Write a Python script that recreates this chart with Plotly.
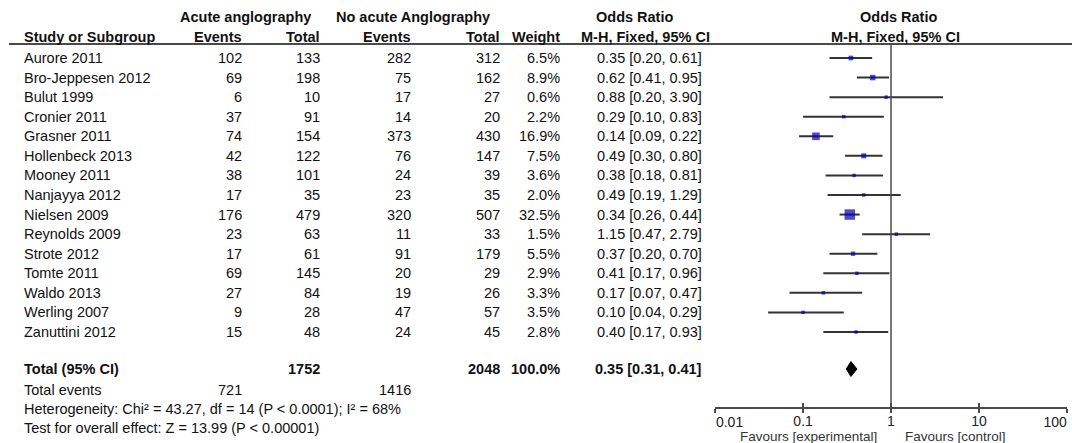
import plotly.graph_objects as go

studies = ["Aurore 2011", "Bro-Jeppesen 2012", "Bulut 1999", "Cronier 2011", "Grasner 2011",
           "Hollenbeck 2013", "Mooney 2011", "Nanjayya 2012", "Nielsen 2009", "Reynolds 2009",
           "Strote 2012", "Tomte 2011", "Waldo 2013", "Werling 2007", "Zanuttini 2012"]
events_acute = [102, 69, 6, 37, 74, 42, 38, 17, 176, 23, 17, 69, 27, 9, 15]
total_acute = [133, 198, 10, 91, 154, 122, 101, 35, 479, 63, 61, 145, 84, 28, 48]
events_noacute = [282, 75, 17, 14, 373, 76, 24, 23, 320, 11, 91, 20, 19, 47, 24]
total_noacute = [312, 162, 27, 20, 430, 147, 39, 35, 507, 33, 179, 29, 26, 57, 45]
weights = [6.5, 8.9, 0.6, 2.2, 16.9, 7.5, 3.6, 2.0, 32.5, 1.5, 5.5, 2.9, 3.3, 3.5, 2.8]
odds = [0.35, 0.62, 0.88, 0.29, 0.14, 0.49, 0.38, 0.49, 0.34, 1.15, 0.37, 0.41, 0.17, 0.10, 0.40]
ci_low = [0.20, 0.41, 0.20, 0.10, 0.09, 0.30, 0.18, 0.19, 0.26, 0.47, 0.20, 0.17, 0.07, 0.04, 0.17]
ci_high = [0.61, 0.95, 3.90, 0.83, 0.22, 0.80, 0.81, 1.29, 0.44, 2.79, 0.70, 0.96, 0.47, 0.29, 0.93]

total_label = "Total (95% CI)"
total_acute_n = 1752
total_noacute_n = 2048
total_weight = 100.0
pooled_or = 0.35
pooled_lo = 0.31
pooled_hi = 0.41
total_events_acute = 721
total_events_noacute = 1416
heterogeneity = "Heterogeneity: Chi² = 43.27, df = 14 (P < 0.0001); I² = 68%"
overall_effect = "Test for overall effect: Z = 13.99 (P < 0.00001)"

tick_vals = [0.01, 0.1, 1, 10, 100]
tick_text = ["0.01", "0.1", "1", "10", "100"]

# ---- layout constants ----
W, H = 1072, 443
FONT = "Liberation Sans, Arial, sans-serif"
TXT = "#111111"
FS = 14.5
ROW0_PX = 58.0
ROW_PX = 19.57


def px_x(p):
    return p / W


def px_y_paper(p):
    return (H - p) / H


def row_of(p):
    return (p - ROW0_PX) / ROW_PX


n = len(studies)
rows = list(range(n))
total_row = row_of(369)
events_row = row_of(390)
het_row = row_of(409)
test_row = row_of(428)
hdr1_row = row_of(17)
hdr2_row = row_of(37)

# middle tick labels centred, first label left-aligned, last label right-aligned
mid_text = [""] + tick_text[1:-1] + [""]

fig = go.Figure()

# CI lines
xs, ys = [], []
for i in rows:
    xs += [ci_low[i], ci_high[i], None]
    ys += [i, i, None]
fig.add_trace(go.Scatter(x=xs, y=ys, mode="lines",
                         line=dict(color="#333333", width=2), hoverinfo="skip", showlegend=False))

# Weighted squares
sizes = [max(3.5, 10.5 * (w / max(weights)) ** 0.5) for w in weights]
fig.add_trace(go.Scatter(x=odds, y=rows, mode="markers",
                         marker=dict(symbol="square", size=sizes, color="#0000b4",
                                     line=dict(width=0)),
                         hoverinfo="skip", showlegend=False))

# Diamond
dh = 0.38
fig.add_trace(go.Scatter(x=[pooled_lo, pooled_or, pooled_hi, pooled_or, pooled_lo],
                         y=[total_row, total_row - dh, total_row, total_row + dh, total_row],
                         mode="lines", fill="toself", fillcolor="#000000",
                         line=dict(color="#000000", width=1), hoverinfo="skip", showlegend=False))

# helper traces so the overlay axes are drawn
for ax in ("x2", "x3"):
    fig.add_trace(go.Scatter(x=[tick_vals[0], tick_vals[-1]], y=[None, None], xaxis=ax, yaxis="y",
                             mode="markers", showlegend=False, hoverinfo="skip"))

ann = []


def t(text, xpx, row, anchor="left", bold=False, size=FS):
    ann.append(dict(text=("<b>%s</b>" % text) if bold else text, x=px_x(xpx), y=row,
                    xref="paper", yref="y", xanchor=anchor, yanchor="middle",
                    showarrow=False, font=dict(family=FONT, size=size, color=TXT)))


# headers
t("Acute anglography", 245, hdr1_row, "center", True)
t("No acute Anglography", 413, hdr1_row, "center", True)
t("Odds Ratio", 634, hdr1_row, "center", True)
t("Odds Ratio", 898, hdr1_row, "center", True)
t("Study or Subgroup", 22, hdr2_row, "left", True)
t("Events", 244, hdr2_row, "right", True)
t("Total", 322, hdr2_row, "right", True)
t("Events", 413, hdr2_row, "right", True)
t("Total", 502, hdr2_row, "right", True)
t("Weight", 562, hdr2_row, "right", True)
t("M-H, Fixed, 95% CI", 645, hdr2_row, "center", True)
t("M-H, Fixed, 95% CI", 895, hdr2_row, "center", True)

for i in rows:
    t(studies[i], 22, i)
    t(str(events_acute[i]), 244, i, "right")
    t(str(total_acute[i]), 322, i, "right")
    t(str(events_noacute[i]), 413, i, "right")
    t(str(total_noacute[i]), 502, i, "right")
    t("%.1f%%" % weights[i], 562, i, "right")
    t("%.2f [%.2f, %.2f]" % (odds[i], ci_low[i], ci_high[i]), 704, i, "right")

t(total_label, 22, total_row, "left", True)
t(str(total_acute_n), 322, total_row, "right", True)
t(str(total_noacute_n), 502, total_row, "right", True)
t("%.1f%%" % total_weight, 562, total_row, "right", True)
t("%.2f [%.2f, %.2f]" % (pooled_or, pooled_lo, pooled_hi), 704, total_row, "right", True)

t("Total events", 22, events_row)
t(str(total_events_acute), 244, events_row, "right")
t(str(total_events_noacute), 413, events_row, "right")
t(heterogeneity, 22, het_row)
t(overall_effect, 22, test_row)

# favours labels
for lab, cx in (("Favours [experimental]", 808), ("Favours [control]", 955)):
    ann.append(dict(text=lab, x=px_x(cx), y=px_y_paper(436), xref="paper", yref="paper",
                    xanchor="center", yanchor="middle", showarrow=False,
                    font=dict(family=FONT, size=13.5, color="#333")))

axis_pos = px_y_paper(408)
x_lo_px, x_hi_px = 715, 1067
eps = 0.002
xdom = [px_x(x_lo_px), px_x(x_hi_px)]
xrng = [-2 - eps, 2 + eps]
tfont = dict(family=FONT, size=14, color="#222")

shapes = [
    dict(type="line", xref="paper", yref="paper", x0=px_x(9), x1=1, y0=px_y_paper(44), y1=px_y_paper(44),
         line=dict(color="#4a4a4a", width=2)),
    dict(type="line", xref="x", yref="paper", x0=1, x1=1, y0=axis_pos, y1=px_y_paper(44),
         line=dict(color="#4a4a4a", width=1.5)),
]

fig.update_layout(
    template="none",
    width=W, height=H, margin=dict(l=0, r=0, t=0, b=0, pad=0, autoexpand=False),
    paper_bgcolor="white", plot_bgcolor="white",
    annotations=ann, shapes=shapes, showlegend=False,
    xaxis=dict(type="log", range=xrng, domain=xdom,
               anchor="free", position=axis_pos, showgrid=False, zeroline=False, automargin=False,
               showline=True, linecolor="#4a4a4a", linewidth=1.5,
               tickvals=tick_vals, ticktext=mid_text, ticks="outside", ticklen=4,
               tickcolor="#4a4a4a", tickwidth=1.5, ticklabelstandoff=-4,
               tickfont=tfont),
    # upward tick halves + left-aligned first label
    xaxis2=dict(type="log", range=xrng, domain=xdom,
                anchor="free", position=axis_pos, overlaying="x", showgrid=False, zeroline=False,
                showline=False, tickvals=tick_vals, ticktext=[tick_text[0]] + [""] * (len(tick_vals) - 1),
                ticklabelposition="outside right", ticklabelstandoff=4, automargin=False,
                ticks="inside", ticklen=5, tickcolor="#4a4a4a", tickwidth=1.5, tickfont=tfont),
    # right-aligned last label
    xaxis3=dict(type="log", range=xrng, domain=xdom,
                anchor="free", position=axis_pos, overlaying="x", showgrid=False, zeroline=False,
                showline=False, tickvals=[tick_vals[-1]], ticktext=[tick_text[-1]],
                ticklabelposition="outside left", ticklabelstandoff=4, automargin=False,
                ticks="", tickfont=tfont),
    yaxis=dict(range=[row_of(H), row_of(0)], domain=[0, 1], visible=False, showgrid=False,
               zeroline=False, automargin=False),
)

fig.write_html("out.html", config={"displayModeBar": False},
               post_script="document.body.style.margin='0';document.body.style.overflow='hidden';")
